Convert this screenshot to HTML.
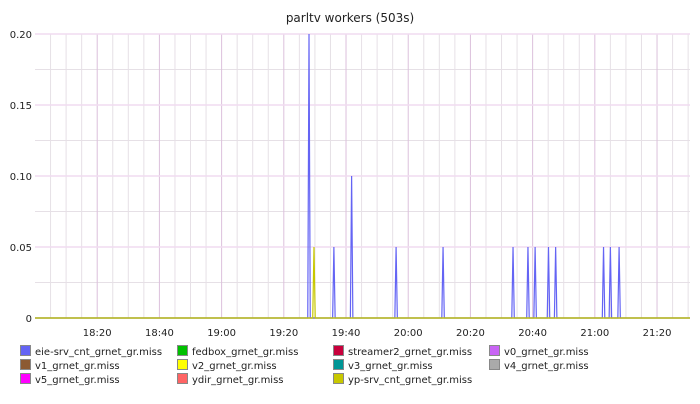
<!DOCTYPE html>
<html><head><meta charset="utf-8"><style>
body{margin:0;background:#fff;width:700px;height:400px;overflow:hidden;font-family:"DejaVu Sans","Liberation Sans",sans-serif}
</style></head><body>
<svg id="chart" width="700" height="400" xmlns="http://www.w3.org/2000/svg"></svg>
<script>
const xTickLabels=["18:20","18:40","19:00","19:20","19:40","20:00","20:20","20:40","21:00","21:20"];
const xTickMinutes=[20,40,60,80,100,120,140,160,180,200];
const yTicks=[0,0.05,0.10,0.15,0.20];
const yTickLabels=["0","0.05","0.10","0.15","0.20"];
const eieTimes=[88.1,96.1,101.8,116.1,131.2,153.7,158.5,160.8,165.1,167.4,182.8,185.0,187.8];
const eieValues=[0.20,0.05,0.10,0.05,0.05,0.05,0.05,0.05,0.05,0.05,0.05,0.05,0.05];
const ypTimes=[89.7];
const ypValues=[0.05];
const legendNames=["eie-srv_cnt_grnet_gr.miss","fedbox_grnet_gr.miss","streamer2_grnet_gr.miss","v0_grnet_gr.miss","v1_grnet_gr.miss","v2_grnet_gr.miss","v3_grnet_gr.miss","v4_grnet_gr.miss","v5_grnet_gr.miss","ydir_grnet_gr.miss","yp-srv_cnt_grnet_gr.miss"];
const legendColors=["#6464f4","#00c000","#c8003c","#c864f4","#8c5a32","#ffff00","#009696","#aaaaaa","#ff00ff","#ff6464","#c8c800"];

const svg=document.getElementById('chart');
const NS="http://www.w3.org/2000/svg";
const L=35,R=690,T=34,B=318,tMax=210.6,yMax=0.2;
const xs=t=>L+t/tMax*(R-L);
const ys=v=>B-v/yMax*(B-T);
function mk(tag,attrs,parent){const e=document.createElementNS(NS,tag);for(const k in attrs)e.setAttribute(k,attrs[k]);(parent||svg).appendChild(e);return e;}

const title=mk('text',{x:350,y:22,'text-anchor':'middle','font-size':12,fill:'#222'});


title.textContent='parltv workers (503s)';

const grid=mk('g',{});


for(let t=5;t<tMax;t+=5){
  if(t%20===0)continue;
  mk('line',{x1:xs(t),x2:xs(t),y1:T,y2:B,stroke:'#e6e0e6','stroke-width':1},grid);
}
for(let v=0.025;v<yMax;v+=0.05){
  mk('line',{x1:L,x2:R,y1:ys(v),y2:ys(v),stroke:'#e6e0e6','stroke-width':1},grid);
}
xTickMinutes.forEach(t=>mk('line',{x1:xs(t),x2:xs(t),y1:T,y2:B,stroke:'#dcc0dc','stroke-width':1},grid));
yTicks.forEach(v=>{if(v>0)mk('line',{x1:L,x2:R,y1:ys(v),y2:ys(v),stroke:'#f0dcf0','stroke-width':1.5},grid);});

const yAxis=mk('g',{'font-size':10,fill:'#222','text-anchor':'end'});


yTicks.forEach((v,i)=>{const e=mk('text',{x:32,y:ys(v)+4},yAxis);e.textContent=yTickLabels[i];});
const xAxis=mk('g',{'font-size':10,fill:'#222','text-anchor':'middle'});


xTickMinutes.forEach((t,i)=>{const e=mk('text',{x:xs(t),y:336},xAxis);e.textContent=xTickLabels[i];});

function series(times,vals,color,name){
  let d=`M${L},${B}`;
  times.forEach((t,i)=>{d+=` L${xs(t-0.4)},${B} L${xs(t)},${ys(vals[i])} L${xs(t+0.4)},${B}`;});
  d+=` L${R},${B}`;
  const p=mk('path',{d:d,fill:'none',stroke:color,'stroke-width':1.2});
  
  
}
mk('line',{x1:L,x2:R,y1:B,y2:B,stroke:'#9aa08c','stroke-width':1.5});
series(eieTimes,eieValues,'#6464f4','series-eie-srv');
series(ypTimes,ypValues,'#c8c800','series-yp-srv');

const cols=[20,177,333,489];
const leg=mk('g',{'font-size':10,fill:'#222'});


legendNames.forEach((n,i)=>{
  const x=cols[i%4],y=351+Math.floor(i/4)*14;
  const g=mk('g',{},leg);
  
  
  mk('rect',{x:x+0.5,y:y-5.5,width:10,height:10,fill:legendColors[i],stroke:'#888','stroke-width':1},g);
  const t=mk('text',{x:x+15,y:y+4},g);t.textContent=n;
});
</script>
</body></html>
